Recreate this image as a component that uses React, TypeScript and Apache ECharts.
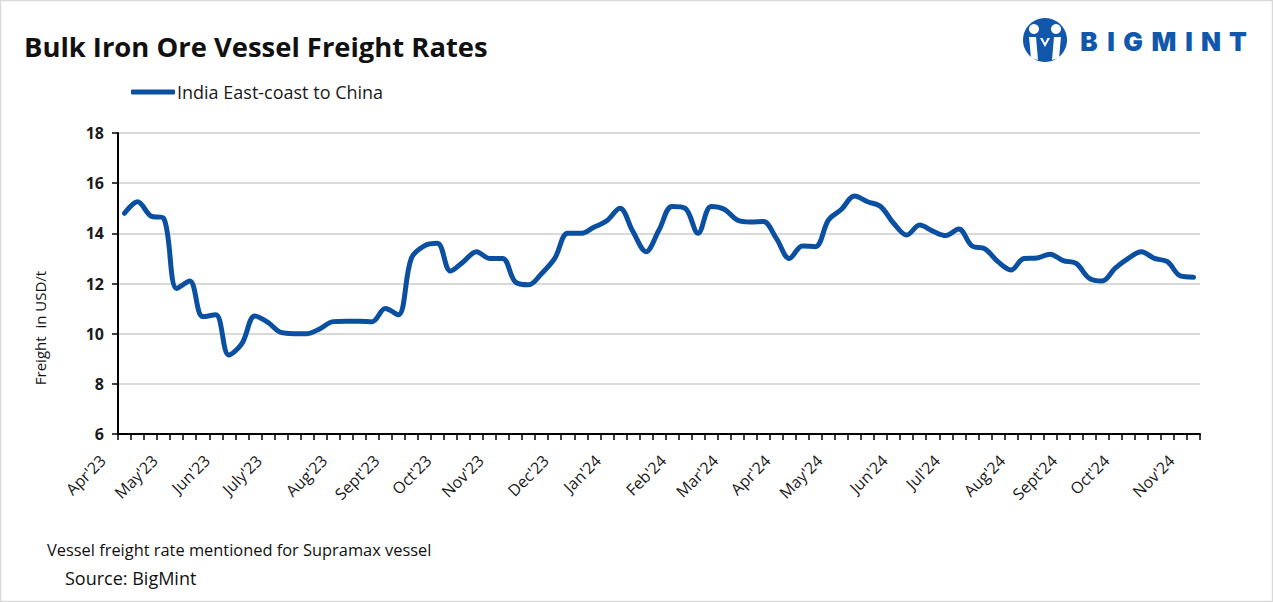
import React, { useEffect, useRef } from "react";
import * as echarts from "echarts";

const monthLabels = ["Apr'23", "May'23", "Jun'23", "July'23", "Aug'23", "Sept'23", "Oct'23", "Nov'23", "Dec'23", "Jan'24", "Feb'24", "Mar'24", "Apr'24", "May'24", "Jun'24", "Jul'24", "Aug'24", "Sept'24", "Oct'24", "Nov'24"];
const monthWeekIndex = [0, 4, 8, 12, 17, 21, 25, 29, 34, 38, 43, 47, 51, 55, 60, 64, 69, 73, 77, 82];
const weekCount = 83;

const freightRates = [
  14.8, 15.26, 14.7, 14.6, 11.8, 12.1, 10.68, 10.75, 9.15, 9.6,
  10.7, 10.45, 10.05, 10.0, 10.0, 10.2, 10.48, 10.5, 10.5, 10.48,
  11.0, 10.75, 13.0, 13.5, 13.6, 12.5, 12.87, 13.27, 13.0, 13.0,
  12.05, 11.95, 12.4, 13.0, 14.0, 14.0, 14.24, 14.5, 15.0, 14.07,
  13.27, 14.13, 15.07, 15.0, 14.0, 15.07, 14.96, 14.53, 14.45, 14.47,
  13.8, 13.0, 13.5, 13.47, 14.53, 14.96, 15.49, 15.26, 15.07, 14.4,
  13.93, 14.33, 14.09, 13.91, 14.17, 13.5, 13.38, 12.87, 12.54, 13.0,
  13.02, 13.17, 12.91, 12.8, 12.21, 12.1, 12.61, 13.0, 13.27, 13.0,
  12.87, 12.3, 12.25,
];

const yMin = 6;
const yMax = 18;
const yStep = 2;

const seriesName = "India East-coast to China";
const titleText = "Bulk Iron Ore Vessel Freight Rates";
const yAxisTitle = "Freight  in USD/t";
const noteText = "Vessel freight rate mentioned for Supramax vessel";
const sourceText = "Source: BigMint";
const logoLetters = ["B", "I", "G", "M", "I", "N", "T"];
const logoLetterX = [1089, 1111, 1133, 1164, 1189, 1211, 1238];

const FONT = "'Open Sans', 'Noto Sans', sans-serif";
const BLUE = "#0b50a0";
const LOGO_BLUE = "#1157ab";

export default function App() {
  const ref = useRef<HTMLDivElement>(null);

  useEffect(() => {
    if (!ref.current) return;
    const chart = echarts.init(ref.current, undefined, { renderer: "svg" });

    const categories: string[] = [];
    for (let i = 0; i < weekCount; i++) {
      const k = monthWeekIndex.indexOf(i);
      categories.push(k >= 0 ? monthLabels[k] : "");
    }

    const logoGraphics: any[] = logoLetters.map((ch, i) => ({
      type: "text",
      x: logoLetterX[i],
      y: 41,
      style: {
        text: ch,
        font: `900 26px Inter, 'Open Sans', sans-serif`,
        fill: LOGO_BLUE,
        align: "center",
        verticalAlign: "middle",
      },
    }));

    chart.setOption({
      animation: false,
      backgroundColor: "#ffffff",
      grid: { left: 118, right: 73, top: 133, bottom: 168, containLabel: false },
      legend: {
        left: 131,
        top: 83,
        icon: "roundRect",
        itemWidth: 44,
        itemHeight: 5,
        itemGap: 10,
        padding: 0,
        textStyle: { fontFamily: FONT, fontSize: 18, color: "#1a1a1a", padding: [0, 0, 0, -3] },
        data: [seriesName],
      },
      xAxis: {
        type: "category",
        data: categories,
        boundaryGap: true,
        axisLine: { lineStyle: { color: "#000000", width: 2 } },
        axisTick: { show: true, interval: 0, length: 6, lineStyle: { color: "#000000", width: 1.5 } },
        axisLabel: {
          interval: 0,
          rotate: 45,
          margin: 2,
          padding: [0, 31, 0, 0],
          fontFamily: FONT,
          fontSize: 16,
          color: "#1a1a1a",
        },
        splitLine: { show: false },
      },
      yAxis: {
        type: "value",
        min: yMin,
        max: yMax,
        interval: yStep,
        axisLine: { show: true, lineStyle: { color: "#000000", width: 2 } },
        axisTick: { show: true, length: 6, lineStyle: { color: "#000000", width: 1.5 } },
        axisLabel: {
          margin: 14,
          fontFamily: FONT,
          fontSize: 16,
          fontWeight: "bold",
          color: "#1a1a1a",
        },
        splitLine: { show: true, lineStyle: { color: "#d9d9d9", width: 2 } },
      },
      series: [
        {
          name: seriesName,
          type: "line",
          data: freightRates,
          smooth: 0.35,
          showSymbol: false,
          symbol: "none",
          lineStyle: { color: BLUE, width: 5, cap: "round", join: "round" },
          itemStyle: { color: BLUE },
        },
      ],
      graphic: [
        {
          type: "rect",
          shape: { x: 0.5, y: 0.5, width: 1272, height: 601 },
          style: { fill: "none", stroke: "#d9d9d9", lineWidth: 1.5 },
          silent: true,
        },
        {
          type: "text",
          x: 24,
          y: 46,
          style: {
            text: titleText,
            font: `bold 27.4px ${FONT}`,
            fill: "#111111",
            verticalAlign: "middle",
          },
        },
        {
          type: "text",
          x: 40,
          y: 328,
          rotation: Math.PI / 2,
          style: {
            text: yAxisTitle,
            font: `15px ${FONT}`,
            fill: "#111111",
            align: "center",
            verticalAlign: "middle",
          },
        },
        {
          type: "text",
          x: 47,
          y: 549,
          style: { text: noteText, font: `16.4px ${FONT}`, fill: "#111111", verticalAlign: "middle" },
        },
        {
          type: "text",
          x: 65,
          y: 578,
          style: { text: sourceText, font: `18px ${FONT}`, fill: "#111111", verticalAlign: "middle" },
        },
        {
          type: "circle",
          shape: { cx: 1045, cy: 40, r: 22 },
          style: { fill: LOGO_BLUE },
        },
        {
          type: "circle",
          shape: { cx: 1034, cy: 29, r: 5 },
          style: { fill: "#ffffff" },
        },
        {
          type: "circle",
          shape: { cx: 1056, cy: 29, r: 5 },
          style: { fill: "#ffffff" },
        },
        {
          type: "polygon",
          shape: { points: [[1029, 37], [1036, 37], [1038, 60], [1031, 58]] },
          style: { fill: "#ffffff" },
        },
        {
          type: "polygon",
          shape: { points: [[1054, 37], [1061, 37], [1059, 58], [1052, 60]] },
          style: { fill: "#ffffff" },
        },
        {
          type: "polygon",
          shape: { points: [[1040, 38], [1045, 47], [1050, 38], [1047.5, 38], [1045, 43], [1042.5, 38]] },
          style: { fill: "#ffffff" },
        },
        ...logoGraphics,
      ],
    });

    return () => chart.dispose();
  }, []);

  return (
    <div
      ref={ref}
      style={{ position: "absolute", left: 0, top: 0, width: 1273, height: 602, background: "#ffffff" }}
    />
  );
}
